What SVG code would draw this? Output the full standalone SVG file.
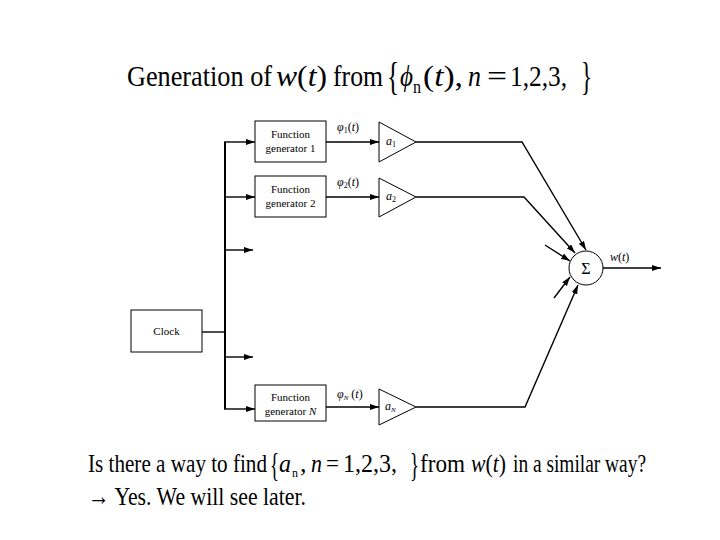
<svg xmlns="http://www.w3.org/2000/svg" width="720" height="540" viewBox="0 0 720 540">
<style>
text{font-family:"Liberation Serif","Times New Roman",serif;fill:#000}
.big{font-size:30px}
.bot{font-size:26px}
.lbl{font-size:11px}
.sym{font-size:12px}
.it{font-style:italic}
.box{fill:#fff;stroke:#000;stroke-width:1}
.tri{fill:#fff;stroke:#000;stroke-width:1}
.ln{fill:none;stroke:#000;stroke-width:1.4}
.bus{fill:none;stroke:#000;stroke-width:2}
</style>
<defs>
<marker id="ah" markerUnits="userSpaceOnUse" markerWidth="10" markerHeight="8" refX="9" refY="3" orient="auto">
<path d="M0,0 L9,3 L0,6 z" fill="#000"/>
</marker>
</defs>
<rect width="720" height="540" fill="#fff"/>

<g id="title">
<text class="big" x="127" y="86" textLength="145" lengthAdjust="spacingAndGlyphs">Generation of</text>
<text class="big" x="276" y="86" textLength="51" lengthAdjust="spacingAndGlyphs"><tspan class="it">w</tspan>(<tspan class="it">t</tspan>)</text>
<text class="big" x="333" y="86" textLength="50" lengthAdjust="spacingAndGlyphs">from</text>
<text x="387" y="90" style="font-size:40px" textLength="12" lengthAdjust="spacingAndGlyphs">{</text>
<text class="big it" x="400" y="86" textLength="13" lengthAdjust="spacingAndGlyphs">ϕ</text>
<text x="413" y="93" style="font-size:18px" textLength="8" lengthAdjust="spacingAndGlyphs">n</text>
<text class="big" x="423" y="86" textLength="40" lengthAdjust="spacingAndGlyphs">(<tspan class="it">t</tspan>),</text>
<text class="big it" x="468" y="86" textLength="13" lengthAdjust="spacingAndGlyphs">n</text>
<text class="big" x="487" y="86" textLength="20" lengthAdjust="spacingAndGlyphs">=</text>
<text class="big" x="510" y="86" textLength="57" lengthAdjust="spacingAndGlyphs">1,2,3,</text>
<text x="581" y="90" style="font-size:40px" textLength="11" lengthAdjust="spacingAndGlyphs">}</text>
</g>

<g id="connectors">
<line class="bus" x1="225" y1="142" x2="225" y2="409"/>
<line class="ln" x1="224" y1="142" x2="255" y2="142" marker-end="url(#ah)"/>
<line class="ln" x1="225" y1="197" x2="255" y2="197" marker-end="url(#ah)"/>
<line class="ln" x1="225" y1="250" x2="253" y2="250" marker-end="url(#ah)"/>
<line class="ln" x1="225" y1="357" x2="253" y2="357" marker-end="url(#ah)"/>
<line class="ln" x1="224" y1="409" x2="255" y2="409" marker-end="url(#ah)"/>
<line class="ln" x1="202" y1="332" x2="225" y2="332"/>
<line class="ln" x1="326" y1="142" x2="379" y2="142" marker-end="url(#ah)"/>
<line class="ln" x1="326" y1="197" x2="379" y2="197" marker-end="url(#ah)"/>
<line class="ln" x1="326" y1="407" x2="379" y2="407" marker-end="url(#ah)"/>
<polyline class="ln" points="416,142 522,142 586,250" marker-end="url(#ah)"/>
<polyline class="ln" points="416,197 524,197 575,253" marker-end="url(#ah)"/>
<polyline class="ln" points="416,407 525,407 578,285" marker-end="url(#ah)"/>
<line class="ln" x1="545" y1="245" x2="570" y2="261" marker-end="url(#ah)"/>
<line class="ln" x1="554" y1="298" x2="570" y2="277" marker-end="url(#ah)"/>
<line class="ln" x1="603" y1="268" x2="661" y2="268" marker-end="url(#ah)"/>
</g>

<g id="clock">
<rect class="box" x="131" y="310" width="71" height="42"/>
<text class="lbl" x="166.5" y="335" text-anchor="middle">Clock</text>
</g>

<g id="gen1">
<rect class="box" x="255" y="121" width="71" height="41"/>
<text class="lbl" x="290.5" y="138" text-anchor="middle">Function</text>
<text class="lbl" x="290.5" y="152" text-anchor="middle">generator 1</text>
</g>
<g id="gen2">
<rect class="box" x="255" y="176" width="71" height="41"/>
<text class="lbl" x="290.5" y="193" text-anchor="middle">Function</text>
<text class="lbl" x="290.5" y="207" text-anchor="middle">generator 2</text>
</g>
<g id="genN">
<rect class="box" x="255" y="385" width="71" height="36"/>
<text class="lbl" x="290.5" y="401" text-anchor="middle">Function</text>
<text class="lbl" x="290.5" y="415" text-anchor="middle">generator <tspan class="it">N</tspan></text>
</g>

<g id="phi1"><text class="sym it" x="337" y="131">φ<tspan font-style="normal" font-size="8" dy="2">1</tspan><tspan font-style="normal" dy="-2">(</tspan>t<tspan font-style="normal">)</tspan></text></g>
<g id="phi2"><text class="sym it" x="337" y="186">φ<tspan font-style="normal" font-size="8" dy="2">2</tspan><tspan font-style="normal" dy="-2">(</tspan>t<tspan font-style="normal">)</tspan></text></g>
<g id="phiN"><text class="sym it" x="337" y="398">φ<tspan font-size="7" dy="2">N</tspan><tspan font-style="normal" dy="-2"> (</tspan>t<tspan font-style="normal">)</tspan></text></g>

<g id="amp1">
<polygon class="tri" points="379,122 379,162 416,142"/>
<text class="sym it" x="386" y="145">a<tspan font-style="normal" font-size="8" dy="2">1</tspan></text>
</g>
<g id="amp2">
<polygon class="tri" points="379,178 379,217 416,197"/>
<text class="sym it" x="386" y="200">a<tspan font-style="normal" font-size="8" dy="2">2</tspan></text>
</g>
<g id="ampN">
<polygon class="tri" points="379,389 379,425 416,407"/>
<text class="sym it" x="385" y="410">a<tspan font-size="7" dy="2">N</tspan></text>
</g>

<g id="sum">
<circle cx="586" cy="268" r="17" fill="#fff" stroke="#000" stroke-width="1"/>
<text x="586" y="274" text-anchor="middle" style="font-size:16px">Σ</text>
</g>
<g id="wout"><text class="sym it" x="610" y="261">w<tspan font-style="normal">(</tspan>t<tspan font-style="normal">)</tspan></text></g>

<g id="question">
<text class="bot" x="88" y="472" textLength="179" lengthAdjust="spacingAndGlyphs">Is there a way to find</text>
<text x="270" y="476" style="font-size:33px" textLength="9" lengthAdjust="spacingAndGlyphs">{</text>
<text class="bot it" x="279" y="472" textLength="12" lengthAdjust="spacingAndGlyphs">a</text>
<text x="292" y="477" style="font-size:12px">n</text>
<text class="bot" x="300" y="472">,</text>
<text class="bot it" x="311" y="472" textLength="11" lengthAdjust="spacingAndGlyphs">n</text>
<text class="bot" x="326" y="472" textLength="13" lengthAdjust="spacingAndGlyphs">=</text>
<text class="bot" x="343" y="472" textLength="54" lengthAdjust="spacingAndGlyphs">1,2,3,</text>
<text x="410" y="476" style="font-size:33px" textLength="9" lengthAdjust="spacingAndGlyphs">}</text>
<text class="bot" x="420" y="472" textLength="45" lengthAdjust="spacingAndGlyphs">from</text>
<text class="bot" x="471" y="472" textLength="35" lengthAdjust="spacingAndGlyphs"><tspan class="it">w</tspan>(<tspan class="it">t</tspan>)</text>
<text class="bot" x="513" y="472" textLength="133" lengthAdjust="spacingAndGlyphs">in a similar way?</text>
<text class="bot" x="88" y="505" textLength="218" lengthAdjust="spacingAndGlyphs">→ Yes.  We will see later.</text>
</g>
</svg>
